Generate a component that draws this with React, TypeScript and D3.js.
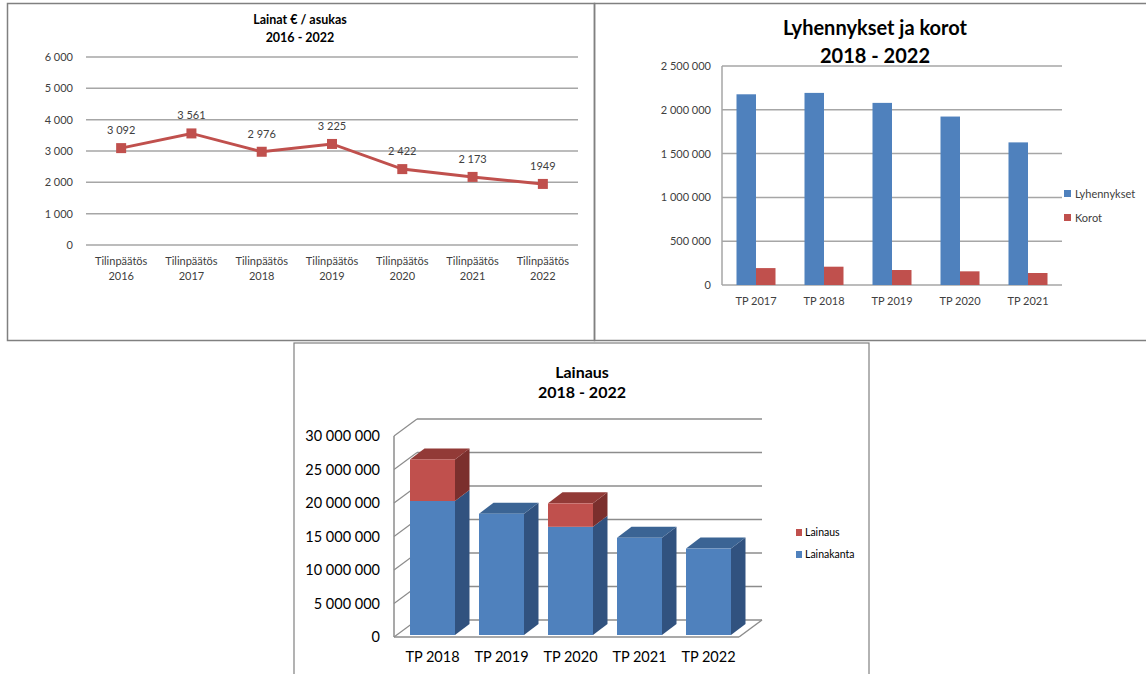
import React from "react";
import * as d3 from "d3";

// ---------- Data ----------
const lineCategories = ["2016", "2017", "2018", "2019", "2020", "2021", "2022"];
const lainatPerAsukas = [3092, 3561, 2976, 3225, 2422, 2173, 1949];
const lainatLabels = ["3 092", "3 561", "2 976", "3 225", "2 422", "2 173", "1949"];
const lineTicks = [0, 1000, 2000, 3000, 4000, 5000, 6000];

const barCategories = ["TP 2017", "TP 2018", "TP 2019", "TP 2020", "TP 2021"];
const lyhennykset = [2177000, 2193000, 2079000, 1923000, 1628000];
const korot = [193000, 209000, 171000, 156000, 137000];
const barTicks = [0, 500000, 1000000, 1500000, 2000000, 2500000];

const stackCategories = ["TP 2018", "TP 2019", "TP 2020", "TP 2021", "TP 2022"];
const lainakanta = [20000000, 18100000, 16150000, 14500000, 12900000];
const lainaus = [6200000, 0, 3500000, 0, 0];
const stackTicks = [0, 5000000, 10000000, 15000000, 20000000, 25000000, 30000000];

const fmt = (v: number) => d3.format(",")(v).replace(/,/g, " ");
const FONT = "Lato, 'Open Sans', sans-serif";

const BLUE = "#4F81BD";
const RED = "#C0504D";
const GRID = "#A6A6A6";

function LineChart() {
  const x = d3.scaleBand<string>().domain(lineCategories).range([86, 578]);
  const y = d3.scaleLinear().domain([0, 6000]).range([245, 57]);
  const cx = (c: string) => (x(c) as number) + x.bandwidth() / 2;
  const pts: [number, number][] = lineCategories.map((c, i) => [cx(c), y(lainatPerAsukas[i])]);
  const line = d3.line();
  return (
    <g fontFamily={FONT}>
      <text x={300} y={24} textAnchor="middle" fontSize={12.5} fontWeight="bold" fill="#000">Lainat € / asukas</text>
      <text x={300} y={42} textAnchor="middle" fontSize={12.5} fontWeight="bold" fill="#000">2016 - 2022</text>
      {lineTicks.map((t) => (
        <g key={t}>
          <line x1={86} x2={578} y1={y(t)} y2={y(t)} stroke={GRID} strokeWidth={1.5} />
          <text x={73} y={y(t) + 4} textAnchor="end" fontSize={11} fill="#404040">{fmt(t)}</text>
        </g>
      ))}
      {lineCategories.map((c) => (
        <g key={c}>
          <text x={cx(c)} y={265} textAnchor="middle" fontSize={11} fill="#404040">Tilinpäätös</text>
          <text x={cx(c)} y={280} textAnchor="middle" fontSize={11} fill="#404040">{c}</text>
        </g>
      ))}
      <path d={line(pts) || ""} fill="none" stroke={RED} strokeWidth={3} />
      {pts.map((p, i) => (
        <g key={i}>
          <rect x={p[0] - 5} y={p[1] - 5} width={10} height={10} fill={RED} />
          <text x={p[0]} y={p[1] - 14} textAnchor="middle" fontSize={11} fill="#404040">{lainatLabels[i]}</text>
        </g>
      ))}
    </g>
  );
}

function BarChart() {
  const x = d3.scaleBand<string>().domain(barCategories).range([722, 1062]);
  const y = d3.scaleLinear().domain([0, 2500000]).range([285, 66]);
  const bw = 19.5;
  return (
    <g fontFamily={FONT}>
      <text x={875} y={35} textAnchor="middle" fontSize={20} fontWeight="bold" fill="#000">Lyhennykset ja korot</text>
      <text x={875} y={63} textAnchor="middle" fontSize={20} fontWeight="bold" fill="#000">2018 - 2022</text>
      {barTicks.map((t) => (
        <g key={t}>
          <line x1={722} x2={1062} y1={y(t)} y2={y(t)} stroke={GRID} strokeWidth={1.5} />
          <text x={711} y={y(t) + 4} textAnchor="end" fontSize={11} fill="#404040">{fmt(t)}</text>
        </g>
      ))}
      <line x1={722} x2={722} y1={y(2500000)} y2={y(0)} stroke={GRID} strokeWidth={1.5} />
      {barCategories.map((c, i) => {
        const c0 = (x(c) as number) + x.bandwidth() / 2;
        return (
          <g key={c}>
            <rect x={c0 - bw} y={y(lyhennykset[i])} width={bw} height={y(0) - y(lyhennykset[i])} fill={BLUE} />
            <rect x={c0} y={y(korot[i])} width={bw} height={y(0) - y(korot[i])} fill={RED} />
            <text x={c0} y={305} textAnchor="middle" fontSize={11} fill="#404040">{c}</text>
          </g>
        );
      })}
      <rect x={1064} y={190} width={7} height={7} fill={BLUE} />
      <text x={1075} y={197.5} fontSize={11} fill="#404040">Lyhennykset</text>
      <rect x={1064} y={214} width={7} height={7} fill={RED} />
      <text x={1075} y={221.5} fontSize={11} fill="#404040">Korot</text>
    </g>
  );
}

function StackChart() {
  const x = d3.scaleBand<string>().domain(stackCategories).range([398, 743]).paddingInner(0.348).paddingOuter(0.174);
  const yFront = d3.scaleLinear().domain([0, 30000000]).range([637, 436]);
  const WDX = 23, WDY = -17;
  const yBack = (v: number) => yFront(v) + WDY;
  const yBar = d3.scaleLinear().domain([0, 30000000]).range([635, 434]);
  const BDX = 14.5, BDY = -11;
  const backLeft = 394 + WDX;
  const backRight = 762;

  const box = (x0: number, w: number, yTop: number, yBot: number, front: string, side: string, top: string, key: string, showTop: boolean) => (
    <g key={key}>
      <polygon points={`${x0 + w},${yBot} ${x0 + w + BDX},${yBot + BDY} ${x0 + w + BDX},${yTop + BDY} ${x0 + w},${yTop}`} fill={side} />
      {showTop && (
        <polygon points={`${x0},${yTop} ${x0 + BDX},${yTop + BDY} ${x0 + w + BDX},${yTop + BDY} ${x0 + w},${yTop}`} fill={top} />
      )}
      <rect x={x0} y={yTop} width={w} height={yBot - yTop} fill={front} />
    </g>
  );

  return (
    <g fontFamily={FONT}>
      <text x={582} y={378} textAnchor="middle" fontSize={16} fontWeight="bold" fill="#000">Lainaus</text>
      <text x={582} y={398} textAnchor="middle" fontSize={16} fontWeight="bold" fill="#000">2018 - 2022</text>
      {stackTicks.map((t) => (
        <g key={t}>
          <line x1={backLeft} x2={backRight} y1={yBack(t)} y2={yBack(t)} stroke="#8C8C8C" strokeWidth={1.5} />
          <line x1={394} x2={backLeft} y1={yFront(t)} y2={yBack(t)} stroke="#8C8C8C" strokeWidth={1.2} />
          <text x={380} y={yFront(t) + 5} textAnchor="end" fontSize={14.5} fill="#000">{fmt(t)}</text>
        </g>
      ))}
      <line x1={394} x2={394} y1={yFront(30000000)} y2={yFront(0)} stroke="#8C8C8C" strokeWidth={1.5} />
      <line x1={394} x2={backRight - WDX} y1={yFront(0)} y2={yFront(0)} stroke="#8C8C8C" strokeWidth={1.5} />
      <line x1={backRight - WDX} x2={backRight} y1={yFront(0)} y2={yBack(0)} stroke="#8C8C8C" strokeWidth={1.5} />
      {stackCategories.map((c, i) => {
        const x0 = x(c) as number;
        const w = x.bandwidth();
        const b = lainakanta[i];
        const r = lainaus[i];
        return (
          <g key={c}>
            {box(x0, w, yBar(b), yBar(0), BLUE, "#31527F", "#3B6494", c + "b", r === 0)}
            {r > 0 && box(x0, w, yBar(b + r), yBar(b), RED, "#7B2F2D", "#923A37", c + "r", true)}
            <text x={x0 + w / 2} y={662} textAnchor="middle" fontSize={14.5} fill="#000">{c}</text>
          </g>
        );
      })}
      <rect x={796} y={529} width={6} height={7} fill={RED} />
      <text x={805} y={536} fontSize={10.5} fill="#000">Lainaus</text>
      <rect x={796} y={551} width={6} height={7} fill={BLUE} />
      <text x={805} y={558} fontSize={10.5} fill="#000">Lainakanta</text>
    </g>
  );
}

export default function App() {
  return (
    <svg width={1146} height={674} style={{ position: "absolute", left: 0, top: 0, background: "#fff" }}>
      <rect x={0} y={0} width={1146} height={674} fill="#fff" />
      <rect x={7.5} y={3.5} width={587} height={337} fill="none" stroke="#808080" strokeWidth={1.5} />
      <rect x={594.5} y={3.5} width={560} height={337} fill="none" stroke="#808080" strokeWidth={1.5} />
      <rect x={294} y={343} width={575} height={340} fill="none" stroke="#808080" strokeWidth={1.2} />
      <LineChart />
      <BarChart />
      <StackChart />
    </svg>
  );
}
